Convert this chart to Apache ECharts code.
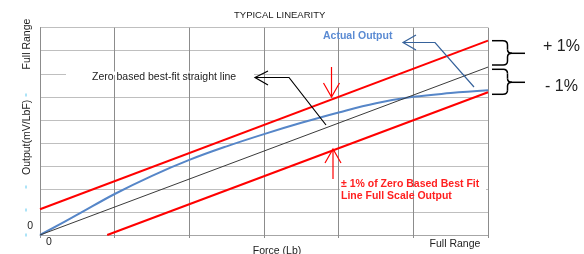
<!DOCTYPE html>
<html>
<head>
<meta charset="utf-8">
<script src="https://cdn.jsdelivr.net/npm/echarts@6/dist/echarts.min.js"></script>
<style>
  html, body { margin: 0; padding: 0; background: #fff; }
  #chart { width: 584px; height: 254px; }
</style>
</head>
<body>
<div id="chart"></div>
<script>
  // x ticks (force) and their labels
  const forceTicks = [0, 1, 2, 3, 4, 5, 6];
  const forceLabels = ['0', '', '', '', '', '', 'Full Range'];
  // y ticks (output), only zero is labelled on the axis
  const outputTicks = [0, 1, 2, 3, 4, 5, 6, 7, 8, 9];
  const outputLabels = ['0', '', '', '', '', '', '', '', '', ''];

  // zero based best-fit straight line
  const fitX = [0, 6];
  const fitY = [0, 7.29];
  // +1% band
  const plusX = [0, 6];
  const plusY = [1.12, 8.44];
  // -1% band
  const minusX = [0.9, 6];
  const minusY = [0, 6.2];
  // actual output curve
  const actualX = [0, 0.5, 1, 1.5, 2, 2.5, 3, 3.5, 4, 4.5, 5, 5.5, 6];
  const actualY = [0, 0.88, 1.78, 2.57, 3.26, 3.85, 4.38, 4.87, 5.32, 5.72, 6.0, 6.16, 6.28];

  const pairs = (xs, ys) => xs.map((x, i) => [x, ys[i]]);
  const font = "'Liberation Sans', Arial, sans-serif";
  const red = '#ff0000';

  const chart = echarts.init(document.getElementById('chart'));

  const lineSeries = (name, xs, ys, color, width, smooth) => ({
    name: name,
    type: 'line',
    data: pairs(xs, ys),
    symbol: 'none',
    smooth: smooth || false,
    lineStyle: { color: color, width: width },
    silent: true,
    animation: false
  });

  // small helpers for the annotation shapes
  const poly = (points, color, width) => ({
    type: 'polyline',
    shape: { points: points },
    style: { stroke: color, lineWidth: width, fill: null },
    z: 100
  });
  const curve = (x1, y1, cx, cy, x2, y2) => ({
    type: 'bezierCurve',
    shape: { x1: x1, y1: y1, cpx1: cx, cpy1: cy, x2: x2, y2: y2 },
    style: { stroke: '#000', lineWidth: 1.5, fill: null },
    z: 100
  });
  const txt = (text, x, y, opts) => Object.assign({
    type: 'text',
    x: x,
    y: y,
    style: Object.assign({
      text: text,
      fill: '#222',
      font: '10.5px ' + font,
      align: 'left',
      verticalAlign: 'middle'
    }, opts && opts.style)
  }, opts && opts.el, { z: 101 });

  // curly brace "}" between yTop and yBot, tip at yTip
  const brace = (yTop, yTip, yBot) => [
    poly([[492, yTop], [503, yTop]], '#000', 1.5),
    curve(503, yTop, 507.5, yTop, 507.5, yTop + 4.3),
    poly([[507.5, yTop + 4.3], [507.5, yTip - 3.8]], '#000', 1.5),
    curve(507.5, yTip - 3.8, 507.5, yTip, 512, yTip),
    poly([[512, yTip], [525, yTip]], '#000', 1.5),
    curve(512, yTip, 507.5, yTip, 507.5, yTip + 3.7),
    poly([[507.5, yTip + 3.7], [507.5, yBot - 4]], '#000', 1.5),
    curve(507.5, yBot - 4, 507.5, yBot, 503, yBot),
    poly([[503, yBot], [492, yBot]], '#000', 1.5)
  ];

  const option = {
    animation: false,
    title: {
      text: 'TYPICAL LINEARITY',
      left: 229,
      top: 5,
      textStyle: { fontSize: 9.5, fontWeight: 'normal', color: '#222', fontFamily: font }
    },
    grid: { left: 40, right: 96, top: 27.7, bottom: 19, containLabel: false, outerBoundsMode: 'none' },
    xAxis: {
      type: 'value',
      min: 0,
      max: 6,
      interval: 1,
      name: 'Force (Lb)',
      nameLocation: 'middle',
      nameGap: 11,
      nameMoveOverlap: false,
      nameTextStyle: { fontSize: 10.5, color: '#222', fontFamily: font, padding: [0, 0, 0, 26], verticalAlign: 'top' },
      axisLine: { lineStyle: { color: '#a6a6a6', width: 1 } },
      axisTick: { show: true, length: 3, lineStyle: { color: '#8c8c8c' } },
      splitLine: { show: true, lineStyle: { color: '#8c8c8c', width: 1 } },
      axisLabel: {
        margin: 2,
        fontSize: 10.5,
        color: '#222',
        fontFamily: font,
        formatter: v => {
          const s = forceLabels[forceTicks.indexOf(v)] || '';
          if (!s) return '';
          return v === 0 ? '{a|' + s + '}' : '{b|' + s + '}';
        },
        rich: {
          a: { fontSize: 10.5, fontFamily: font, color: '#222', padding: [0, 0, 0, 18] },
          b: { fontSize: 10.5, fontFamily: font, color: '#222', padding: [2, 66, 0, 0] }
        }
      }
    },
    yAxis: {
      type: 'value',
      min: 0,
      max: 9,
      interval: 1,
      name: 'Output(mV/LbF)',
      nameLocation: 'middle',
      nameRotate: 90,
      nameGap: 7,
      nameMoveOverlap: false,
      nameTextStyle: { fontSize: 10.5, color: '#222', fontFamily: font, padding: [0, 12, 0, 0] },
      axisLine: { show: true, lineStyle: { color: '#8c8c8c', width: 1 } },
      axisTick: { show: false },
      splitLine: { show: true, lineStyle: { color: '#bfbfbf', width: 1 } },
      axisLabel: {
        margin: 7,
        fontSize: 10.5,
        color: '#222',
        fontFamily: font,
        formatter: v => {
          const s = outputLabels[outputTicks.indexOf(v)] || '';
          return s ? '{z|' + s + '}' : '';
        },
        rich: {
          z: { fontSize: 10.5, fontFamily: font, color: '#222', padding: [0, 0, 18, 0] }
        }
      }
    },
    series: [
      lineSeries('Actual Output', actualX, actualY, '#5686c8', 2, 0.4),
      lineSeries('Best Fit', fitX, fitY, '#3a3a3a', 1),
      lineSeries('+1%', plusX, plusY, red, 2),
      lineSeries('-1%', minusX, minusY, red, 2)
    ],
    graphic: [
      // rotated "Full Range" at the top of the y axis
      txt('Full Range', 27, 44, { el: { rotation: Math.PI / 2 }, style: { align: 'center' } }),
      // little cyan marks left of the y axis
      poly([[26, 93.5], [26, 96.5]], '#5bc8f0', 1),
      poly([[26, 185.5], [26, 188.5]], '#5bc8f0', 1),
      poly([[26, 208.5], [26, 211.5]], '#5bc8f0', 1),
      poly([[26, 233.5], [26, 236.5]], '#5bc8f0', 1),

      // best fit label with white box hiding the gridline
      { type: 'rect', shape: { x: 66, y: 71.5, width: 188, height: 3.5 }, style: { fill: '#fff' }, z: 99 },
      txt('Zero based best-fit straight line', 92, 77.5),
      poly([[268, 71], [255, 77.5], [268, 85]], '#000', 1.2),
      poly([[255, 77.5], [289, 77.5], [326, 125]], '#000', 1.2),

      // actual output label and arrow
      txt('Actual Output', 323, 36, { style: { fill: '#5b8bd3', font: 'bold 10.5px ' + font } }),
      poly([[416, 35], [403, 42.5], [416, 50]], '#36629b', 1.2),
      poly([[403, 42.5], [435, 42.5], [474, 87]], '#36629b', 1.2),

      // red arrows pointing at the band lines
      poly([[331.5, 67], [331.5, 97]], red, 1.2),
      poly([[323.5, 83], [331.5, 97], [339.5, 83]], red, 1.2),
      poly([[333, 179], [333, 149]], red, 1.2),
      poly([[325, 163], [333, 149], [341, 163]], red, 1.2),

      // red note with white box hiding the gridline
      { type: 'rect', shape: { x: 340, y: 187, width: 146, height: 3.5 }, style: { fill: '#fff' }, z: 99 },
      txt('\u00b1 1% of Zero Based Best Fit', 341, 184, { style: { fill: '#ff1f1f', font: 'bold 10.5px ' + font } }),
      txt('Line Full Scale Output', 341, 196, { style: { fill: '#ff1f1f', font: 'bold 10.5px ' + font } }),

      // braces on the right
      ...brace(40.7, 53.3, 65),
      ...brace(69.3, 82.3, 94.3),
      txt('+ 1%', 543, 47, { style: { font: '16px ' + font } }),
      txt('- 1%', 545, 87, { style: { font: '16px ' + font } })
    ]
  };

  chart.setOption(option);
</script>
</body>
</html>
